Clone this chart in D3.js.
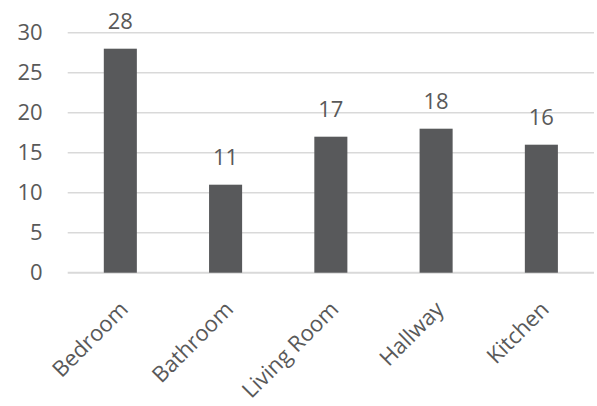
<!DOCTYPE html>
<html><head><meta charset="utf-8">
<script src="https://cdn.jsdelivr.net/npm/d3@7"></script>
<style>body{margin:0;background:#fff}svg{display:block}text{font-family:"Open Sans",sans-serif;fill:#595959}</style>
</head><body>
<script>
const categories = ["Bedroom","Bathroom","Living Room","Hallway","Kitchen"];
const values = [28,11,17,18,16];
const yTicks = [0,5,10,15,20,25,30];

const W=597,H=406;
const svg=d3.select("body").append("svg").attr("width",W).attr("height",H);
const x=d3.scaleBand().domain(categories).range([67.7,594]).paddingInner(0.686).paddingOuter(0.343);
const y=d3.scaleLinear().domain([0,30]).range([272.7,32.7]);

const grid=svg.append("g");
grid.selectAll("line").data(yTicks).join("line")
  .attr("x1",67.7).attr("x2",594).attr("y1",d=>y(d)).attr("y2",d=>y(d))
  .attr("stroke","#d9d9d9").attr("stroke-width",d=>d===0?2:1.5);

const yAxis=svg.append("g").attr("transform","translate(67.7,0)")
  .call(d3.axisLeft(y).tickValues(yTicks).tickSize(0).tickPadding(25));
yAxis.select(".domain").remove();
yAxis.selectAll("text").style("font-size","22px").style("font-family","Open Sans").attr("fill","#595959");

svg.append("g").selectAll("rect").data(values).join("rect")
  .attr("x",(d,i)=>x(categories[i])).attr("width",x.bandwidth())
  .attr("y",d=>y(d)).attr("height",d=>y(0)-y(d)).attr("fill","#58595b");

svg.append("g").selectAll("text").data(values).join("text")
  .attr("x",(d,i)=>x(categories[i])+x.bandwidth()/2).attr("y",d=>y(d)-20)
  .attr("text-anchor","middle").style("font-size","22px").text(d=>d);

const xAxis=svg.append("g").attr("transform",`translate(0,${y(0)})`)
  .call(d3.axisBottom(x).tickSize(0).tickPadding(0));
xAxis.select(".domain").remove();
xAxis.selectAll("text").attr("text-anchor","end").attr("dy",0)
  .attr("transform","translate(9,38) rotate(-45)")
  .style("font-size","22px").style("font-family","Open Sans").attr("fill","#404040");
</script>
</body></html>
